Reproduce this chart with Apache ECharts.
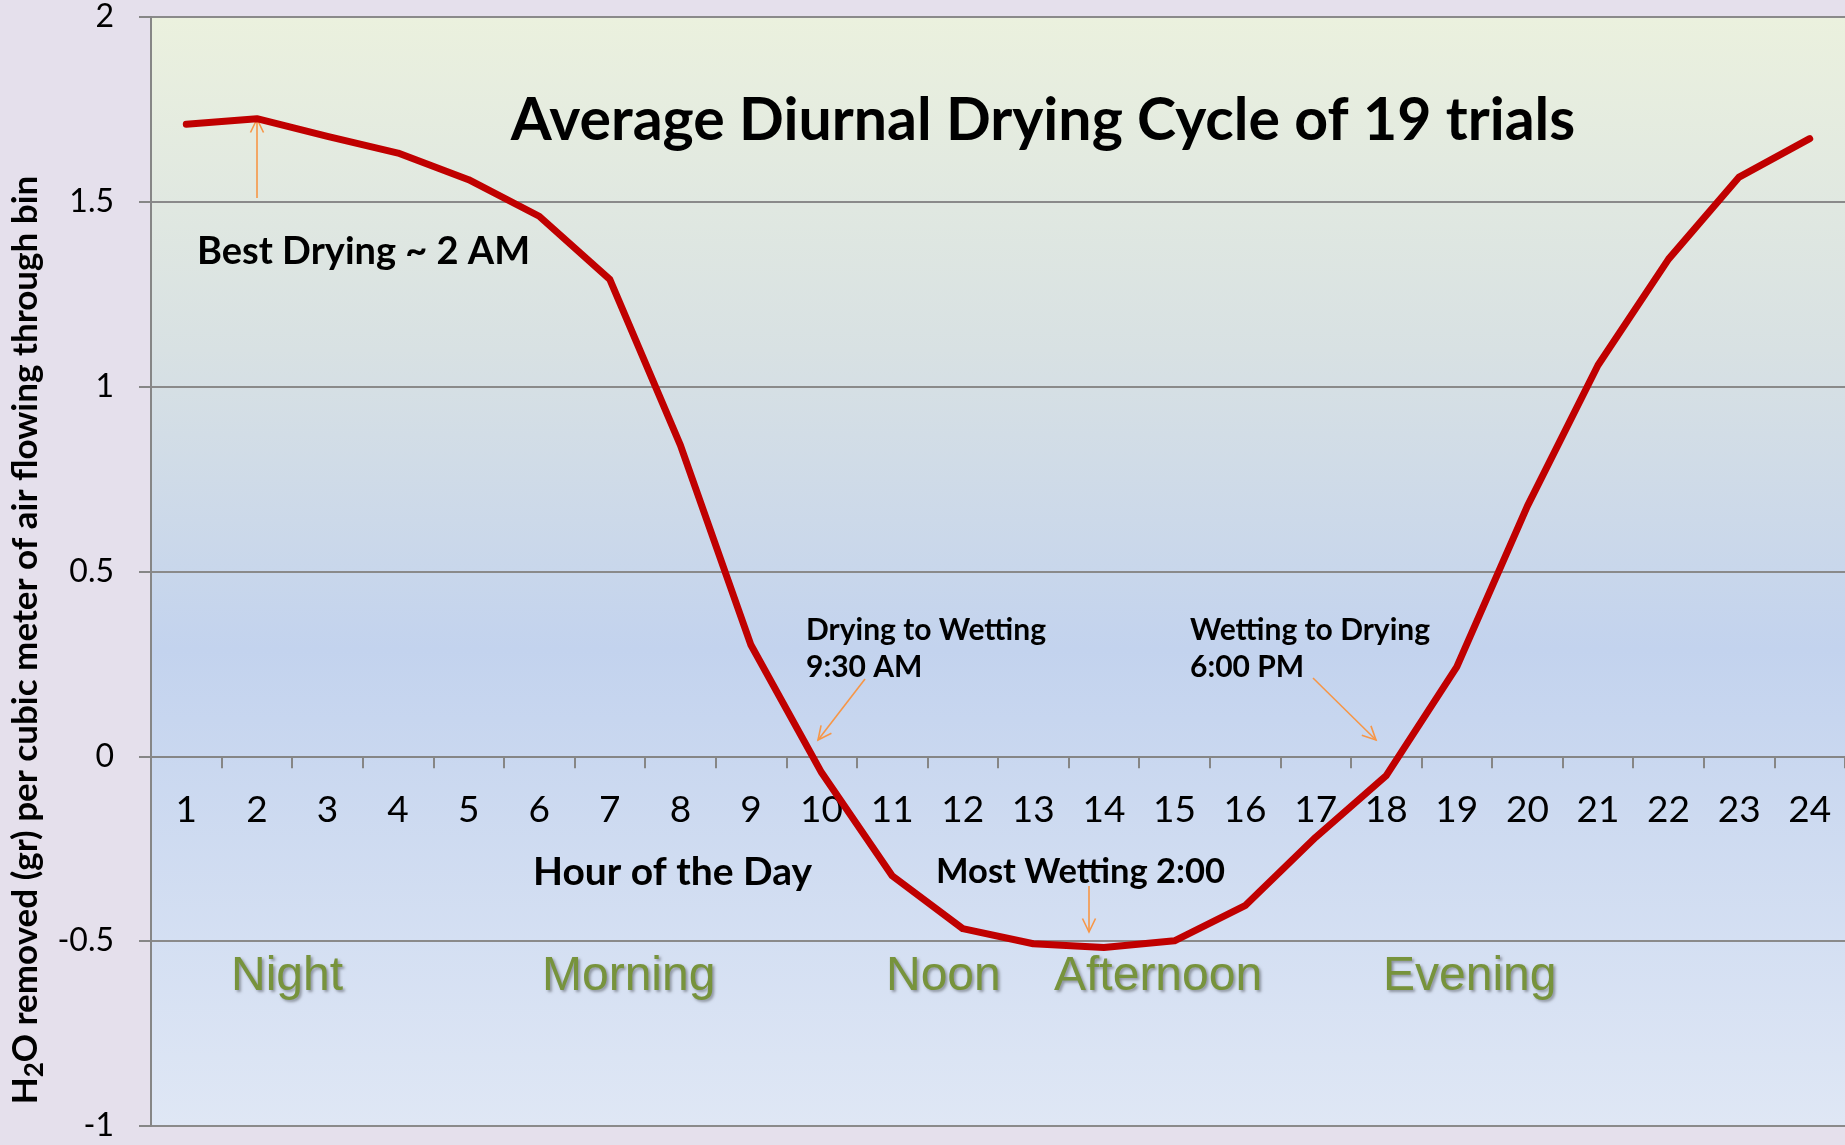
<!DOCTYPE html>
<html>
<head>
<meta charset="utf-8">
<title>Average Diurnal Drying Cycle of 19 trials</title>
<script src="https://cdn.jsdelivr.net/npm/echarts@6/dist/echarts.min.js"></script>
<style>
html, body { margin: 0; padding: 0; background: #e5e0ec; }
#main { width: 1845px; height: 1145px; }
</style>
</head>
<body>
<div id="main"></div>
<script>
// hour of the day (x axis categories)
var hours = ['1','2','3','4','5','6','7','8','9','10','11','12',
             '13','14','15','16','17','18','19','20','21','22','23','24'];
// H2O removed (gr) per m3 of air, average of 19 trials
var waterRemoved = [1.71, 1.725, 1.677, 1.632, 1.56, 1.461, 1.29, 0.842, 0.301, -0.044, -0.323, -0.466,
                    -0.507, -0.517, -0.499, -0.404, -0.219, -0.052, 0.242, 0.677, 1.058, 1.345, 1.567, 1.671];
// y axis ticks
var yMin = -1, yMax = 2, yStep = 0.5;
// parts of the day written under the curve
var dayParts = ['Night', 'Morning', 'Noon', 'Afternoon', 'Evening'];
var dayPartX = [231, 542, 886, 1054, 1383];

var calibri = 'Lato, "Open Sans", sans-serif';
var orange = '#f79646';

// plot box
var gridTop = 17, gridBottom = 19, chartH = 1145;
var plotH = chartH - gridTop - gridBottom;
// the hour axis sits on y = 0 (onZero does not kick in here, so shift it up)
var xAxisOffset = -(0 - yMin) / (yMax - yMin) * plotH;

// thin orange arrow with an open head
function arrow(x1, y1, x2, y2) {
	var a = Math.atan2(y2 - y1, x2 - x1);
	var len = 15, spread = 0.45;
	return {
		type: 'group',
		silent: true,
		z: 20,
		children: [
			{ type: 'line', shape: { x1: x1, y1: y1, x2: x2, y2: y2 },
			  style: { stroke: orange, lineWidth: 1.6 } },
			{ type: 'polyline',
			  shape: { points: [
				[x2 - len * Math.cos(a - spread), y2 - len * Math.sin(a - spread)],
				[x2, y2],
				[x2 - len * Math.cos(a + spread), y2 - len * Math.sin(a + spread)]
			  ] },
			  style: { stroke: orange, lineWidth: 1.6, fill: null } }
		]
	};
}

function label(txt, x, y, size) {
	return {
		type: 'text', x: x, y: y, z: 20, silent: true,
		style: {
			text: txt, fill: '#000', fontSize: size, fontWeight: 'bold', fontFamily: calibri,
			align: 'left', verticalAlign: 'middle'
		}
	};
}

var graphics = [
	// y axis title, rotated, with subscript
	{
		type: 'text', x: 26, y: 640, rotation: Math.PI / 2, z: 20, silent: true,
		style: {
			text: '{b|H}{s|2}{b|O removed (gr) per cubic meter of air flowing through bin}',
			align: 'center', verticalAlign: 'middle',
			rich: {
				b: { fontSize: 35, fontWeight: 'bold', fontFamily: calibri, fill: '#000', lineHeight: 44 },
				s: { fontSize: 26, fontWeight: 'bold', fontFamily: calibri, fill: '#000', lineHeight: 26, verticalAlign: 'bottom' }
			}
		}
	},
	label('Best Drying ~ 2 AM', 197, 252, 38),
	label('Drying to Wetting', 806, 630, 30),
	label('9:30 AM', 806, 667, 30),
	label('Wetting to Drying', 1190, 630, 30),
	label('6:00 PM', 1190, 667, 30),
	label('Hour of the Day', 533, 872, 39),
	label('Most Wetting 2:00', 936, 872, 34.5),
	arrow(257, 198, 257, 119),
	arrow(865, 679, 818, 740),
	arrow(1313, 678, 1376, 740),
	arrow(1089, 886, 1089, 932)
];

dayParts.forEach(function (p, i) {
	graphics.push({
		type: 'text', x: dayPartX[i], y: 977, z: 20, silent: true,
		style: {
			text: p, fill: '#77933c', fontSize: 48, fontFamily: '"Liberation Sans", Arial, sans-serif',
			align: 'left', verticalAlign: 'middle',
			textShadowColor: 'rgba(0,0,0,0.35)', textShadowBlur: 3,
			textShadowOffsetX: 2, textShadowOffsetY: 2
		}
	});
});

var myChart = echarts.init(document.getElementById('main'), null, { renderer: 'canvas' });

var option = {
	backgroundColor: '#e5e0ec',
	animation: false,
	title: {
		text: 'Average Diurnal Drying Cycle of 19 trials',
		left: 1038,
		top: 86,
		textAlign: 'center',
		textStyle: { fontSize: 59, fontWeight: 'bold', fontFamily: calibri, color: '#000' }
	},
	grid: {
		left: 151, right: 0, top: gridTop, bottom: gridBottom,
		containLabel: false,
		outerBoundsMode: 'none',
		show: true,
		borderWidth: 0,
		backgroundColor: {
			type: 'linear', x: 0, y: 0, x2: 0, y2: 1,
			colorStops: [
				{ offset: 0, color: '#ebf1de' },
				{ offset: 0.3, color: '#d8e1e3' },
				{ offset: 0.57, color: '#c3d3ee' },
				{ offset: 1, color: '#dfe7f5' }
			]
		}
	},
	xAxis: {
		type: 'category',
		data: hours,
		boundaryGap: true,
		position: 'bottom',
		offset: xAxisOffset,
		axisLine: { onZero: false, lineStyle: { color: '#868686', width: 2 } },
		axisTick: { show: true, inside: false, length: 12, lineStyle: { color: '#868686', width: 2 } },
		axisLabel: { fontSize: 37, margin: 35, color: '#000', fontFamily: calibri },
		splitLine: { show: false }
	},
	yAxis: {
		type: 'value',
		min: yMin, max: yMax, interval: yStep,
		axisLine: { show: true, onZero: false, lineStyle: { color: '#868686', width: 2 } },
		axisTick: { show: true, length: 12, lineStyle: { color: '#868686', width: 2 } },
		axisLabel: { fontSize: 32, margin: 37, color: '#000', fontFamily: calibri },
		splitLine: { show: true, lineStyle: { color: '#8a8a8a', width: 2 } }
	},
	series: [{
		type: 'line',
		data: waterRemoved,
		symbol: 'none',
		z: 10,
		lineStyle: { color: '#c00000', width: 7, cap: 'round', join: 'round' }
	}],
	graphic: graphics
};

myChart.setOption(option);
</script>
</body>
</html>
